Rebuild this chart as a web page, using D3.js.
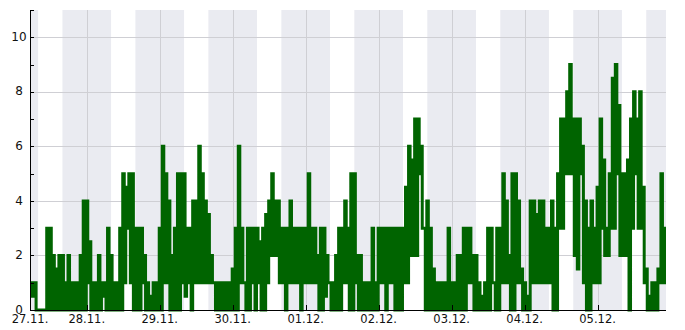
<!DOCTYPE html>
<html><head><meta charset="utf-8">
<script src="https://cdn.jsdelivr.net/npm/d3@7"></script>
<style>
body{margin:0;background:#fff}
svg{display:block}
text{font-family:"DejaVu Sans",sans-serif;fill:#111}
</style>
</head><body>
<svg id="chart" width="685" height="330"></svg>
<script>
// ---- data ----
const startTime = "2014-11-27T05:20:00";
const endTime = "2014-12-05T22:30:00";
const sampleStart = "2014-11-27T05:50:00";
const leadValue = 0.5;
const firstLabel = "27.11.";
const yTickValues = [0, 2, 4, 6, 8, 10];
const yMinorTicks = [0,1,2,3,4,5,6,7,8,9,10,11];
const nightStartHour = 16;
const nightEndHour = 8;
// hourly samples starting at sampleStart: peak value at :00, low value at :30
const hiValues = [
 1,1,0,0,0,3,3,2,1.5,2,2,1,2,1,1,1,2,4,4,2.5,1,1,2,1,1,3,2,1,1,3,
 5,4.5,5,5,3,3,3,2,1,0.5,1,1,3,6,5,4,2,3,5,5,5,3,3,4,4,6,5,4,3.5,2,
 1,1,1,1,1,1,1.5,3,6,3,1,3,3,3,3,2.5,3,3.5,4,5,4,4,3,3,3,4,3,3,3,3,
 3,5,3,3,2,3,3,2,1,1,2,3,3,4,3,5,5,2,2,1,1,1,3,1,3,3,3,3,3,3,3,3,
 3,4.5,6,5.5,7,7,6,3,4,3,1.5,1,1,1,1,3,1,1,2,2,3,3,3,2,2,1,0.5,1,3,3,
 1,3,3,5,4,2,5,5,4,1.5,1,0.5,4,4,3.5,4,4,3,3,4,3,5,7,7,8,9,7,7,7,6,
 4,3,4,3,4.5,7,5.5,3,5,8.5,9,7.5,5,5,5.5,7,8,7,8,4.5,1.5,0.5,1,1,1.5,5,3,3
];
const loValues = [
 0.5,0,0,0,0,0,0,0,0,0,0,0,0,0,0,0,0,0,1,0,0,0,0,0.5,0,0,0,0,0,0,
 1,3,1,0,0,0,1,0,0,0,0,0,0,1,1,0,0,0,0,1,0.5,1,0,1,1,1,1,1,1,1,
 0,0,0,0,0,0,0,0,1,1,0,0,1,0,1,0,0,1,2,2,2,1,1,0,1,1,1,1,0,1,
 1,1,1,1,0,0,0.5,1,0,0,0,0,1,1,0,0,1,0,0,0,0,0,0,0,1,1,0,1,1,0,0,0,
 1,1,2,2,2,5,3,0,0,0,0,0,0,0,0,0,0,0,0,0,0,1,1,0,0,0,0,0,0,1,
 0,0,1,1,1,0,0,1,1,0,0,0,1,1,1,1,1,1,1,0,0,3,3,5,5,5,2,1.5,5,1,
 0,0,1,1,1,3,2,2,3,3,5,2,2,2,0,3,5,3,3,1,0,0,0,0,1,1,1,1
];

// ---- layout ----
const svg = d3.select("#chart");
const L = 30, R = 666, T = 10, B = 310;
const parse = d3.isoParse;
const t0 = parse(startTime), t1 = parse(endTime), s0 = parse(sampleStart);
const x = d3.scaleTime().domain([t0, t1]).range([L, R]);
const y = d3.scaleLinear().domain([0, 11]).range([B, T]);
const fmt = d3.timeFormat("%d.%m.");

svg.append("defs").append("clipPath").attr("id", "clip")
  .append("rect").attr("x", 0).attr("y", 0).attr("width", R).attr("height", 330);

// night bands
const bands = [];
d3.timeDay.range(d3.timeDay.offset(d3.timeDay.floor(t0), -1), t1).forEach(d => {
  const s = d3.timeHour.offset(d, nightStartHour);
  const e = d3.timeHour.offset(d, 24 + nightEndHour);
  const a = s < t0 ? t0 : s, b = e > t1 ? t1 : e;
  if (b > a) bands.push([a, b]);
});
svg.append("g").selectAll("rect").data(bands).join("rect")
  .attr("x", d => x(d[0])).attr("y", T)
  .attr("width", d => x(d[1]) - x(d[0])).attr("height", B - T)
  .attr("fill", "#eaebf1");

// grid
const days = d3.timeDay.range(d3.timeDay.ceil(t0), t1);
svg.append("g").selectAll("line").data(yTickValues.filter(v => v > 0)).join("line")
  .attr("x1", L).attr("x2", R).attr("y1", d => Math.round(y(d)) + 0.5).attr("y2", d => Math.round(y(d)) + 0.5)
  .attr("stroke", "#cfcfd4").attr("stroke-width", 1);
svg.append("g").selectAll("line").data(days).join("line")
  .attr("x1", d => Math.round(x(d)) + 0.5).attr("x2", d => Math.round(x(d)) + 0.5)
  .attr("y1", T).attr("y2", B)
  .attr("stroke", "#cfcfd4").attr("stroke-width", 1);

// series
const pts = [[t0, leadValue]];
hiValues.forEach((v, j) => {
  const th = d3.timeHour.offset(s0, j);
  pts.push([th, v]);
  pts.push([d3.timeMinute.offset(th, 30), loValues[j]]);
});
pts.push([d3.timeHour.offset(s0, hiValues.length), loValues[loValues.length - 1]]);
const line = d3.line().x(d => x(d[0])).y(d => y(d[1])).curve(d3.curveStepAfter);
svg.append("path").datum(pts).attr("d", line).attr("clip-path", "url(#clip)")
  .attr("fill", "none").attr("stroke", "#006400").attr("stroke-width", 3);

// axes
const yAxis = svg.append("g");
yAxis.append("line").attr("x1", L + 0.5).attr("x2", L + 0.5).attr("y1", T).attr("y2", B + 1)
  .attr("stroke", "#000");
yAxis.selectAll(".mt").data(yMinorTicks).join("line")
  .attr("x1", L).attr("x2", L + 4).attr("y1", d => Math.round(y(d)) + 0.5).attr("y2", d => Math.round(y(d)) + 0.5)
  .attr("stroke", "#000");
yAxis.selectAll("text").data(yTickValues).join("text")
  .attr("x", 19).attr("y", d => y(d)).attr("text-anchor", "middle").attr("dy", "0.3em")
  .style("font-size", "12px")
  .text(d => d);

const xAxis = svg.append("g");
xAxis.append("line").attr("x1", L).attr("x2", R).attr("y1", B + 0.5).attr("y2", B + 0.5)
  .attr("stroke", "#000");
xAxis.selectAll("line.tk").data(days).join("line")
  .attr("x1", d => Math.round(x(d)) + 0.5).attr("x2", d => Math.round(x(d)) + 0.5)
  .attr("y1", B - 5).attr("y2", B).attr("stroke", "#000");
const labels = [{t: t0, s: firstLabel}].concat(days.map(d => ({t: d, s: fmt(d)})));
xAxis.selectAll("text").data(labels).join("text")
  .attr("x", d => x(d.t)).attr("y", 322.5).attr("text-anchor", "middle")
  .style("font-size", "11.5px")
  .text(d => d.s);
</script>
</body></html>
